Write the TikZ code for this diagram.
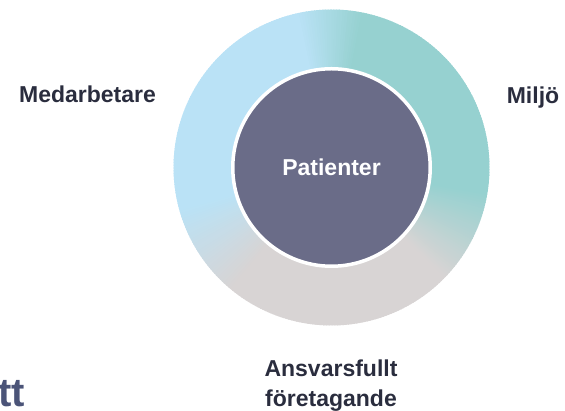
\documentclass[tikz,border=0pt]{standalone}
\usepackage{fontspec}
\setmainfont{Liberation Sans}
\definecolor{ringblue}{HTML}{BAE2F6}
\definecolor{ringteal}{HTML}{96D1D0}
\definecolor{ringgray}{HTML}{D8D4D4}
\definecolor{coredark}{HTML}{6A6C88}
\definecolor{labeltext}{HTML}{2A2D3E}
\definecolor{titletext}{HTML}{4B5478}
\begin{document}
\begin{tikzpicture}[x=1pt,y=1pt,
  lbl/.style={font=\bfseries\fontsize{23}{27}\selectfont, text=labeltext, inner sep=0pt, anchor=base},
  core/.style={circle, fill=coredark, draw=white, line width=3.5pt, minimum size=197.5pt, inner sep=0pt,
    font=\bfseries\fontsize{23}{27}\selectfont, text=white}]
\useasboundingbox (0,0) rectangle (565,411);
\coordinate (C) at (331.5,243.5);
\foreach \a in {-45,...,314}{
  \ifnum\a<-10
    \pgfmathtruncatemacro\p{(\a+45)*100/35}\colorlet{seg}{ringteal!\p!ringgray}
  \else\ifnum\a<78
    \colorlet{seg}{ringteal}
  \else\ifnum\a<102
    \pgfmathtruncatemacro\p{(\a-78)*100/24}\colorlet{seg}{ringblue!\p!ringteal}
  \else\ifnum\a<195
    \colorlet{seg}{ringblue}
  \else\ifnum\a<230
    \pgfmathtruncatemacro\p{(\a-195)*100/35}\colorlet{seg}{ringgray!\p!ringblue}
  \else
    \colorlet{seg}{ringgray}
  \fi\fi\fi\fi\fi
  \fill[seg] (C) -- ++(\a:158) arc[start angle=\a, end angle=\a+1.4, radius=158] -- cycle;
}
\node[core] (pat) at (C) {Patienter};
\node[lbl] (med) at (87.5,308) {Medarbetare};
\node[lbl] (mil) at (533,307) {Miljö};
\node[lbl] (ans) at (331,34) {Ansvarsfullt};
\node[lbl] (for) at (331,4) {företagande};
\node[font=\bfseries\fontsize{40}{44}\selectfont, text=titletext, inner sep=0pt, anchor=base east] (tt) at (25,4) {tt};
\end{tikzpicture}
\end{document}
